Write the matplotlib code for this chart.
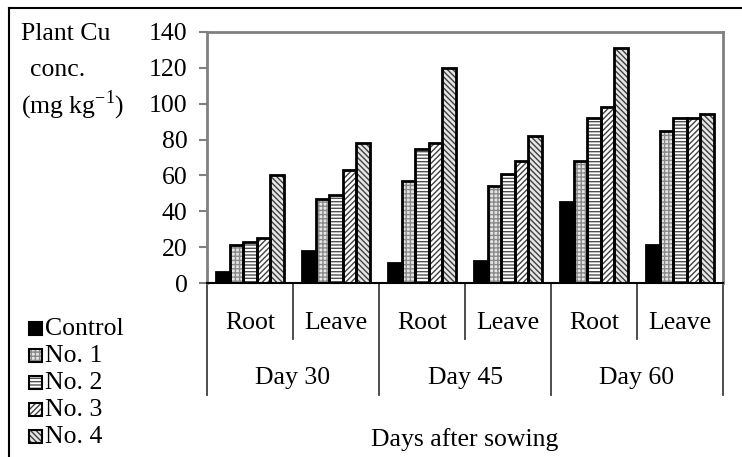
"""Plant Cu concentration by treatment, organ and sampling day."""

import matplotlib.pyplot as plt
import matplotlib.transforms as mtransforms
from matplotlib.patches import Rectangle
from matplotlib.lines import Line2D

plt.rcParams["font.family"] = ["Liberation Serif", "DejaVu Serif"]
plt.rcParams["mathtext.fontset"] = "custom"
plt.rcParams["mathtext.rm"] = "Liberation Serif"
plt.rcParams["hatch.linewidth"] = 1.0

days = ["Day 30", "Day 45", "Day 60"]
organs = ["Root", "Leave"]
treatments = ["Control", "No. 1", "No. 2", "No. 3", "No. 4"]

# one list per treatment, order: D30 root, D30 leave, D45 root, D45 leave, D60 root, D60 leave
control = [6, 18, 11, 12, 45, 21]
no1 = [21, 47, 57, 54, 68, 85]
no2 = [23, 49, 75, 61, 92, 92]
no3 = [25, 63, 78, 68, 98, 92]
no4 = [60, 78, 120, 82, 131, 94]
values = [control, no1, no2, no3, no4]

y_ticks = [0, 20, 40, 60, 80, 100, 120, 140]

W, H = 742, 457
FS = 18.5

# face, hatch colour, hatch
styles = [
    ("black", "black", ""),
    ("#e6e6e6", "#8a8a8a", "++++"),
    ("white", "#505050", "-----"),
    ("white", "#404040", "//////"),
    ("#e6e6e6", "#404040", "\\\\\\\\\\\\"),
]


def fx(px):
    return px / W


def fy(py):
    return 1 - py / H


fig = plt.figure(figsize=(W / 100, H / 100), dpi=100)
ax = fig.add_axes([fx(207), fy(283), fx(723 - 207), (283 - 32) / H])

n_groups = len(control)
width = 0.158
for j, (vals, (face, hcol, hatch)) in enumerate(zip(values, styles)):
    xs = [i + 0.5 + (j - 2) * width for i in range(n_groups)]
    ax.bar(xs, vals, width=width, color=face, edgecolor=hcol, hatch=hatch,
           linewidth=0, zorder=2)
    ax.bar(xs, vals, width=width, fill=False, edgecolor="black",
           linewidth=2.0, zorder=3)

ax.set_xlim(0, n_groups)
ax.set_ylim(0, 140)
ax.set_yticks(y_ticks)
ax.set_yticklabels([str(t) for t in y_ticks], fontsize=FS)
ax.set_xticks([])
ax.tick_params(axis="y", direction="out", length=6, width=1.5,
               color="#808080", pad=8)
for side in ["top", "right", "left"]:
    ax.spines[side].set_color("#808080")
    ax.spines[side].set_linewidth(2)
ax.spines["bottom"].set_color("black")
ax.spines["bottom"].set_linewidth(1.5)

# category axis: separators and two rows of labels
trans = mtransforms.blended_transform_factory(ax.transData, ax.transAxes)
short = -(339 - 283) / 251
tall = -(395 - 283) / 251
for i in range(n_groups + 1):
    y_end = tall if i % 2 == 0 else short
    ax.add_line(Line2D([i, i], [0, y_end], transform=trans, color="#404040",
                       linewidth=1.3, clip_on=False))
for i in range(n_groups):
    ax.text(i + 0.5, -(323 - 283) / 251, organs[i % 2], transform=trans,
            ha="center", va="center", fontsize=FS)
for k, day in enumerate(days):
    ax.text(2 * k + 1, -(378 - 283) / 251, day, transform=trans,
            ha="center", va="center", fontsize=FS)
ax.text(0.5, -(440 - 283) / 251, "Days after sowing", transform=ax.transAxes,
        ha="center", va="center", fontsize=FS)

# y-axis title, one line per tick row
ytrans = mtransforms.blended_transform_factory(fig.transFigure, ax.transData)
ax.text(fx(21), 139, "Plant Cu", transform=ytrans, ha="left", va="center",
        fontsize=FS)
ax.text(fx(58), 119, "conc.", transform=ytrans, ha="center", va="center",
        fontsize=FS)
ax.text(fx(21), 99, "(mg kg$^{-1}$)", transform=ytrans, ha="left",
        va="center", fontsize=FS)

# legend
row_y = [329, 356, 383, 410, 437]
for name, (face, hcol, hatch), ry in zip(treatments, styles, row_y):
    fig.add_artist(Rectangle((fx(29), fy(ry + 6)), fx(13), 13 / H,
                             facecolor=face, edgecolor=hcol, hatch=hatch,
                             linewidth=0, transform=fig.transFigure))
    fig.add_artist(Rectangle((fx(29), fy(ry + 6)), fx(13), 13 / H,
                             fill=False, edgecolor="black", linewidth=1.5,
                             transform=fig.transFigure))
    fig.text(fx(45), fy(ry), name, ha="left", va="center", fontsize=FS)

# outer frame (left and top edges only, the rest is cropped)
fig.add_artist(Line2D([fx(9), fx(9)], [0, fy(8)], color="black", linewidth=1.5,
                      transform=fig.transFigure))
fig.add_artist(Line2D([fx(9), 1], [fy(8), fy(8)], color="black", linewidth=1.5,
                      transform=fig.transFigure))

fig.savefig("out.png", dpi=100)
